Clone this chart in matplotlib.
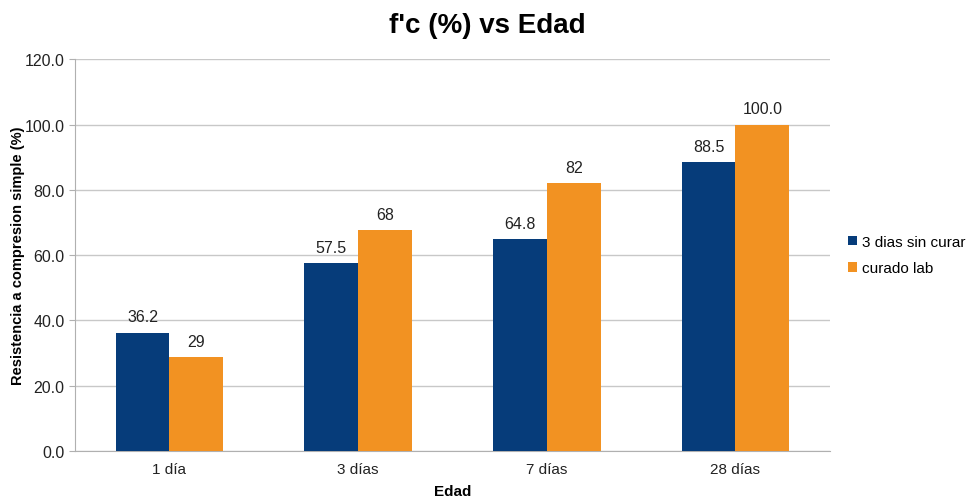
import matplotlib

matplotlib.use("Agg")
import matplotlib.pyplot as plt
import numpy as np

categories = ["1 día", "3 días", "7 días", "28 días"]
sin_curar = [36.2, 57.5, 64.8, 88.5]
curado_lab = [28.7, 67.7, 82.0, 100.0]
sin_curar_labels = ["36.2", "57.5", "64.8", "88.5"]
curado_lab_labels = ["29", "68", "82", "100.0"]
yticks = [0, 20, 40, 60, 80, 100, 120]

BLUE = "#063c7a"
ORANGE = "#f29222"

plt.rcParams["font.family"] = ["Liberation Sans", "DejaVu Sans"]

fig = plt.figure(figsize=(9.74, 5.02), dpi=100)
ax = fig.add_axes([0.077, 0.0996, 0.775, 0.7804])

x = np.arange(len(categories))
w = 0.285
b1 = ax.bar(x - w / 2, sin_curar, w, color=BLUE, label="3 dias sin curar", zorder=3)
b2 = ax.bar(x + w / 2, curado_lab, w, color=ORANGE, label="curado lab", zorder=3)

for bars, labels in ((b1, sin_curar_labels), (b2, curado_lab_labels)):
    for bar, lab in zip(bars, labels):
        ax.annotate(lab, (bar.get_x() + bar.get_width() / 2, bar.get_height()),
                    textcoords="offset points", xytext=(0, 6), ha="center", va="bottom",
                    fontsize=11.5, color="#222222")

ax.set_xlim(-0.5, len(categories) - 0.5)
ax.set_ylim(0, 120)
ax.set_yticks(yticks, [f"{v:.1f}" for v in yticks])
ax.set_xticks(x, categories)
ax.tick_params(axis="y", length=4, color="#b0b0b0", labelsize=11.5, labelcolor="#222222")
ax.tick_params(axis="x", length=0, labelsize=11, labelcolor="#222222", pad=8)
ax.grid(axis="y", color="#c8c8c8", linewidth=1, zorder=0)
for side in ("top", "right"):
    ax.spines[side].set_visible(False)
ax.spines["left"].set_color("#b0b0b0")
ax.spines["bottom"].set_color("#b0b0b0")

ax.set_ylabel("Resistencia a compresion simple (%)", fontsize=10.5, fontweight="bold", labelpad=0)
ax.set_xlabel("Edad", fontsize=11, fontweight="bold", labelpad=6)
fig.suptitle("f'c (%) vs Edad", fontsize=20, fontweight="bold", y=0.975)

ax.legend(loc="center left", bbox_to_anchor=(1.0, 0.5), frameon=False, fontsize=11,
          handlelength=0.6, handleheight=0.6, handletextpad=0.3, labelspacing=0.8,
          borderaxespad=0.8)

fig.savefig("out.png", dpi=100)
